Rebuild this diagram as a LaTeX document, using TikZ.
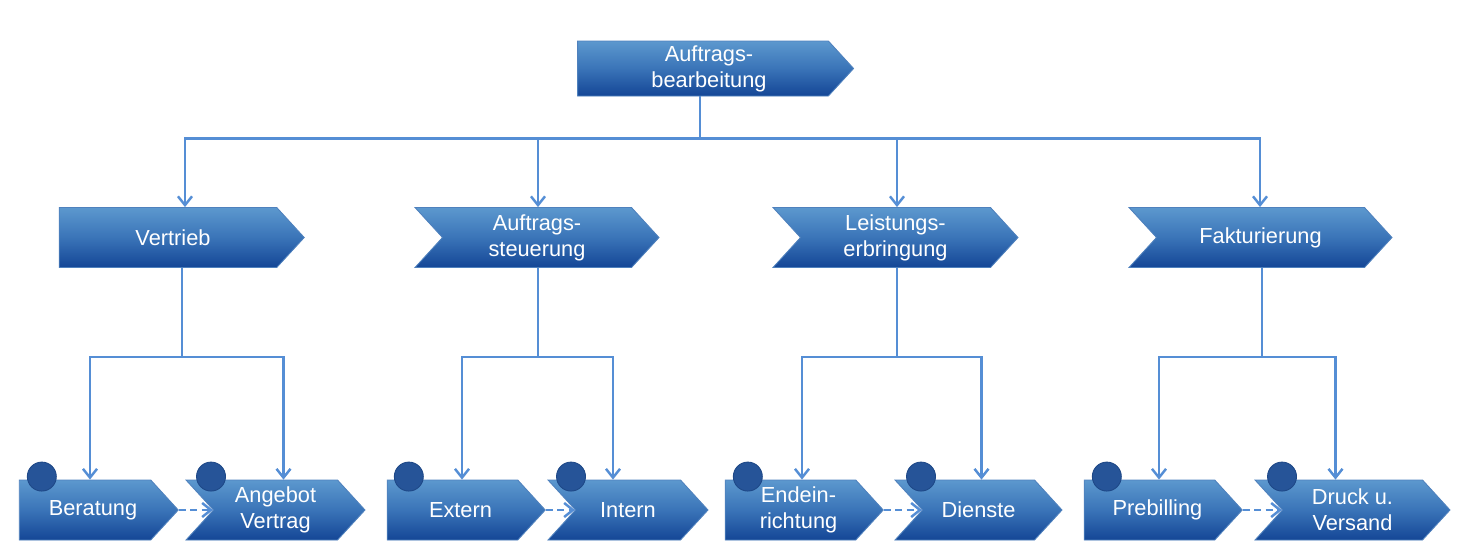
\documentclass[tikz,border=0pt]{standalone}
\usepackage{fontspec}
\setmainfont{Liberation Sans}
\usetikzlibrary{shapes.symbols, arrows.meta, calc}

\definecolor{boxtop}{RGB}{92,152,206}
\definecolor{boxmid}{RGB}{58,116,184}
\definecolor{boxbot}{RGB}{20,70,150}
\definecolor{boxedge}{RGB}{79,129,189}
\definecolor{linkblue}{RGB}{85,142,213}
\definecolor{dotfill}{RGB}{38,84,152}
\definecolor{dotedge}{RGB}{30,72,135}

\tikzset{
  stepbox/.style={signal, signal to=east, signal pointer angle=95,
    draw=boxedge, line width=0.5pt,
    top color=boxtop, bottom color=boxbot, middle color=boxmid,
    text=white, align=center, inner sep=0pt,
    font=\fontsize{12.4}{14.7}\selectfont, minimum height=1.2cm},
  notched/.style={stepbox, signal from=west},
  dot/.style={circle, fill=dotfill, draw=dotedge, line width=0.5pt,
    minimum size=0.58cm, inner sep=0pt},
  link/.style={draw=linkblue, line width=1.4pt,
    -{Straight Barb[length=5pt, width=8pt]}},
  flow/.style={link, dash pattern=on 4pt off 2.5pt},
}
% Text im Fuenfeck etwas nach rechts
\newcommand{\indl}{\hspace*{0.32cm}}

\begin{document}
\begin{tikzpicture}[x=0.02cm, y=-0.02cm]
  \useasboundingbox (0,0) rectangle (1472,552);

  % Ebene 1
  \node[stepbox, minimum width=5.52cm, minimum height=1.1cm] (auftrag) at (703,68.5)
    {\hspace*{0.24cm}Auftrags-\\\hspace*{0.24cm}bearbeitung};

  % Ebene 2
  \node[stepbox, minimum width=4.9cm] (vertrieb) at (168,237.5) {\hspace*{0.2cm}Vertrieb};
  \node[notched, minimum width=4.88cm] (steuerung) at (537,237.5) {Auftrags-\\steuerung};
  \node[notched, minimum width=4.9cm] (leistung) at (895.5,237.5) {Leistungs-\\erbringung};
  \node[notched, minimum width=5.26cm] (faktura) at (1260.5,237.5) {Fakturierung};

  % Ebene 3
  \node[stepbox, minimum width=3.18cm] (beratung) at (85,510) {\indl Beratung};
  \node[notched, minimum width=3.58cm] (angebot) at (275.5,510) {Angebot\\Vertrag};
  \node[stepbox, minimum width=3.16cm] (extern) at (452.5,510) {\indl Extern};
  \node[notched, minimum width=3.2cm] (intern) at (628,510) {Intern};
  \node[stepbox, minimum width=3.16cm] (endein) at (790.5,510) {\indl Endein-\\\indl richtung};
  \node[notched, minimum width=3.34cm] (dienste) at (978.5,510) {Dienste};
  \node[stepbox, minimum width=3.16cm] (prebill) at (1149.5,510) {\indl Prebilling};
  \node[notched, minimum width=3.9cm] (druck) at (1352.5,510) {Druck u.\\Versand};

  % Punkte
  \foreach \kind/\dx in {beratung/23, angebot/26, extern/22, intern/24,
                         endein/23, dienste/27, prebill/23, druck/28}
    \node[dot] (d-\kind) at ($(\kind.north west)+(\dx,-3)$) {};

  % Verbindungen 1 -> 2
  \foreach \kind/\dx in {vertrieb/17, steuerung/1, leistung/1.5, faktura/-0.5}
    \draw[link] ($(auftrag.south)+(-3,0)$) -- ++(0,42) -| ($(\kind.north)+(\dx,0)$);

  % Verbindungen 2 -> 3
  \foreach \parent/\px/\kidA/\dxA/\kidB/\dxB in {vertrieb/14/beratung/5/angebot/8,
      steuerung/1/extern/9.5/intern/-15, leistung/1.5/endein/11.5/dienste/3,
      faktura/1.5/prebill/9.5/druck/-17}
  {
    \draw[link] ($(\parent.south)+(\px,0)$) -- ++(0,89) -| ($(\kidA.north)+(\dxA,0)$);
    \draw[link] ($(\parent.south)+(\px,0)$) -- ++(0,89) -| ($(\kidB.north)+(\dxB,0)$);
  }

  % Ablauf
  \draw[flow] (beratung.east) -- (angebot.west);
  \draw[flow] (extern.east) -- (intern.west);
  \draw[flow] (endein.east) -- (dienste.west);
  \draw[flow] (prebill.east) -- (druck.west);
\end{tikzpicture}
\end{document}
